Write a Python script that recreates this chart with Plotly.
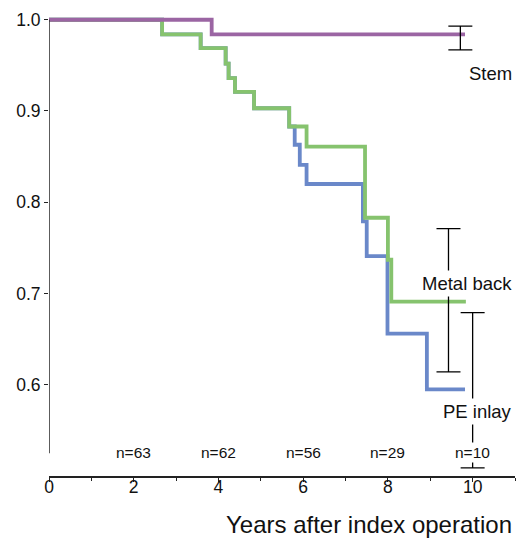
import plotly.graph_objects as go

# Kaplan-Meier step data (years, survival)
stem_t = [0, 3.84, 9.82]
stem_s = [1.0, 0.984, 0.984]

metal_t = [0, 2.67, 3.58, 4.17, 4.24, 4.39, 4.84, 5.67, 6.08, 7.46, 8.00, 8.08, 9.84]
metal_s = [1.0, 0.984, 0.969, 0.952, 0.936, 0.921, 0.903, 0.883, 0.861, 0.783, 0.737, 0.691, 0.691]

pe_t = [0, 2.67, 3.58, 4.17, 4.24, 4.39, 4.84, 5.67, 5.80, 5.92, 6.08, 7.41, 7.50, 7.99, 8.92, 9.82]
pe_s = [1.0, 0.984, 0.969, 0.952, 0.936, 0.921, 0.903, 0.883, 0.863, 0.841, 0.820, 0.779, 0.741, 0.656, 0.595, 0.595]

# Confidence intervals at end of follow-up
ci_names = ["Stem", "Metal back", "PE inlay"]
ci_x = [9.71, 9.43, 10.0]
ci_mid = [0.98, 0.69, 0.595]
ci_low = [0.967, 0.614, 0.509]
ci_high = [0.993, 0.771, 0.679]

# Numbers at risk
risk_x = [2, 4, 6, 8, 10]
risk_n = ["n=63", "n=62", "n=56", "n=29", "n=10"]

label_text = ["Stem", "Metal back", "PE inlay"]
label_y = [0.9415, 0.711, 0.571]

FONT = "Liberation Sans, Arial, Helvetica, sans-serif"

fig = go.Figure()
fig.add_trace(go.Scatter(x=pe_t, y=pe_s, mode="lines", line=dict(shape="hv", color="#6a88c9", width=3.8),
                         showlegend=False, hoverinfo="skip"))
fig.add_trace(go.Scatter(x=metal_t, y=metal_s, mode="lines", line=dict(shape="hv", color="#86c36e", width=3.8),
                         showlegend=False, hoverinfo="skip"))
fig.add_trace(go.Scatter(x=stem_t, y=stem_s, mode="lines", line=dict(shape="hv", color="#9b65a3", width=3.8),
                         showlegend=False, hoverinfo="skip"))

fig.add_trace(go.Scatter(
    x=ci_x, y=ci_mid, mode="markers", marker=dict(size=0.1, color="rgba(0,0,0,0)"),
    error_y=dict(type="data", symmetric=False,
                 array=[h - m for h, m in zip(ci_high, ci_mid)],
                 arrayminus=[m - l for m, l in zip(ci_mid, ci_low)],
                 color="black", thickness=1.3, width=12),
    showlegend=False, hoverinfo="skip"))

# y-axis line (shorter than plotting area)
fig.add_shape(type="line", xref="x", yref="y", x0=0, x1=0, y0=0.525, y1=1.0,
              line=dict(color="#333333", width=1.6))

for x, n in zip(risk_x, risk_n):
    fig.add_annotation(x=x, y=0.526, text=n, showarrow=False, xanchor="center", yanchor="middle",
                       font=dict(family=FONT, size=15.5, color="#111"), bgcolor="white", borderpad=1)

for t, y in zip(label_text, label_y):
    fig.add_annotation(x=1.0, xref="paper", xanchor="right", y=y, yanchor="middle", text=t, showarrow=False,
                       font=dict(family=FONT, size=18.5, color="#111"), bgcolor="white", borderpad=2, xshift=0)

fig.add_annotation(x=1.0, xref="paper", xanchor="right", y=-0.106, yref="paper", yanchor="middle",
                   text="Years after index operation", showarrow=False,
                   font=dict(family=FONT, size=24, color="#111"), xshift=-1)

fig.update_layout(
    width=525, height=539,
    margin=dict(l=49, r=10, t=15, b=63),
    plot_bgcolor="white", paper_bgcolor="white",
    font=dict(family=FONT, color="#111"),
    xaxis=dict(range=[0, 11], tickvals=[0, 2, 4, 6, 8, 10], showgrid=False, zeroline=False,
               showline=True, linecolor="#222", linewidth=1.6, ticks="outside", ticklen=4,
               tickcolor="#222", tickwidth=1.2, tickfont=dict(size=17.5, family=FONT, color="#111"),
               ticklabelstandoff=-10,
               minor=dict(tickvals=[1, 3, 5, 7, 9, 11], ticks="outside", ticklen=3, tickcolor="#222"),
               fixedrange=True),
    yaxis=dict(range=[0.5, 1.003], tickvals=[0.6, 0.7, 0.8, 0.9, 1.0], ticktext=["0.6", "0.7", "0.8", "0.9", "1.0"],
               showgrid=False, zeroline=False, showline=False, ticks="outside", ticklen=4,
               tickcolor="#222", tickwidth=1.2, tickfont=dict(size=17.5, family=FONT, color="#111"),
               fixedrange=True),
)

fig.write_html("out.html", config={"displayModeBar": False},
               post_script="document.body.style.margin='0';document.body.style.overflow='hidden';")
